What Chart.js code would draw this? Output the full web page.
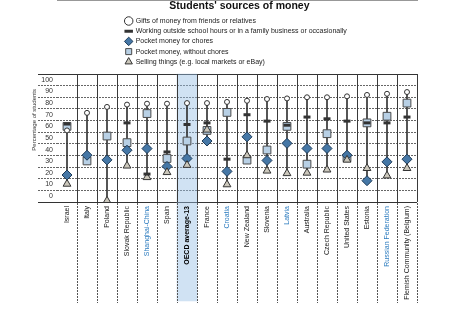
<!DOCTYPE html>
<html><head><meta charset="utf-8">
<script src="https://cdn.jsdelivr.net/npm/chart.js@4.4.1/dist/chart.umd.min.js"></script>
<style>
html,body{margin:0;padding:0;background:#fff;}
#wrap{position:relative;width:468px;height:312px;overflow:hidden;}
#main{position:absolute;left:0;top:0;}
#leg{position:absolute;left:122px;top:0;}
</style></head>
<body><div id="wrap"><canvas id="main" width="468" height="312"></canvas><canvas id="leg" width="500" height="72"></canvas></div>
<script>
const categories = ['Israel','Italy','Poland','Slovak Republic','Shanghai-China','Spain','OECD average-13','France','Croatia','New Zealand','Slovenia','Latvia','Australia','Czech Republic','United States','Estonia','Russian Federation','Flemish Community (Belgium)'];
const gifts    = [56.5, 71.6, 76.7, 78.7, 79.5, 79.5, 80, 80, 81, 82, 83.5, 84, 85, 85, 85.8, 87, 88, 89.5];
const working  = [62, null, null, 63, 19, 38, 61.6, 63, 31.8, 70, 64.5, 61, 68, 66.5, 64.5, 63, 63, 68];
const chores   = [18.2, 35.2, 31.2, 39.5, 40.9, 25.6, 32.4, 47.4, 21.3, 51, 30.7, 45.4, 41, 41, 35.2, 13.3, 29.5, 31.8];
const noChores = [60, 30.3, 51.7, 46, 71, 32.4, 47.4, 56.5, 72, 31, 39.7, 60, 27.5, 53.7, 33, 63, 68.7, 80];
const selling  = [10.5, null, -4, 26.1, 16.2, 20.5, 26.7, 57, 10, 35, 21.8, 19.6, 20, 22.7, 31.2, 24, 17.6, 24];
const seriesNames = ['Gifts of money from friends or relatives','Working outside school hours or in a family business or occasionally','Pocket money for chores','Pocket money, without chores','Selling things (e.g. local markets or eBay)'];
const yTickLabels = [0,10,20,30,40,50,60,70,80,90,100];
const highlighted = 'OECD average-13';
const partners = ['Shanghai-China','Croatia','Latvia','Russian Federation'];

const F = "'Liberation Sans', Arial, sans-serif";
const SHADE_TOP = 105, SHADE_BOTTOM = -90;

const markerStyles = [
  {pointStyle:'circle', pointRadius:2.5, pointBackgroundColor:'#ffffff', pointBorderColor:'#333333', pointBorderWidth:1, order:4},
  {pointStyle:'line', pointRadius:3.5, pointBackgroundColor:'#333333', pointBorderColor:'#333333', pointBorderWidth:3, order:1},
  {pointStyle:'rectRot', pointRadius:5, pointBackgroundColor:'#4577a6', pointBorderColor:'#1d3a57', pointBorderWidth:1, order:3},
  {pointStyle:'rect', pointRadius:5.5, pointBackgroundColor:'#b8d0e5', pointBorderColor:'#4a4a4a', pointBorderWidth:1, order:5},
  {pointStyle:'triangle', pointRadius:4.5, pointBackgroundColor:'#cbc7bb', pointBorderColor:'#333333', pointBorderWidth:1, order:2}
];
const seriesData = [gifts, working, chores, noChores, selling];

const ranges = categories.map((c, i) => {
  const v = seriesData.map(s => s[i]).filter(x => x !== null && x !== undefined);
  return [Math.min(...v), Math.max(...v)];
});
const shade = categories.map(c => c === highlighted ? [SHADE_BOTTOM, SHADE_TOP] : null);

const pointDatasets = seriesNames.map((n, i) => Object.assign({
  type: 'line', label: n, data: seriesData[i], showLine: false
}, markerStyles[i]));

const isEdge = c => c.tick && (c.tick.value === 105 || c.tick.value === -5);
const isOdd5 = c => c.tick && Math.abs(c.tick.value % 10) === 5;

new Chart(document.getElementById('main'), {
  type: 'bar',
  data: {
    labels: categories,
    datasets: pointDatasets.concat([
      {type:'bar', label:'range', data: ranges, barThickness: 1, backgroundColor:'#333333', borderWidth:0, grouped:false, order:9},
      {type:'bar', label:'shade', data: shade, backgroundColor:'rgba(150,190,228,0.45)', borderWidth:0, barPercentage:1, categoryPercentage:1, grouped:false, clip:false, order:10}
    ])
  },
  options: {
    responsive:false, animation:false, devicePixelRatio:1, events:[],
    layout:{padding:{top:74, right:51, bottom:0, left:0}},
    plugins:{legend:{display:false}, tooltip:{enabled:false}, title:{display:false}},
    scales:{
      x:{
        offset:true,
        afterFit: s => { s.height = 110; },
        grid:{offset:true, z:1, tickLength:101, lineWidth:1,
          color: c => c.index === 0 ? 'rgba(0,0,0,0)' : '#3a3a3a',
          tickColor: c => c.index === 0 ? 'rgba(0,0,0,0)' : '#555555',
          tickBorderDash:[2,1]},
        border:{display:true, color:'#333333', width:1},
        ticks:{autoSkip:false, minRotation:90, maxRotation:90, padding:-97, z:1,
          color: c => categories[c.index] === highlighted ? '#000000' : (partners.includes(categories[c.index]) ? '#2b7bbf' : '#1a1a1a'),
          font: c => ({family:F, size:7, weight: categories[c.index] === highlighted ? 'bold' : 'normal'})}
      },
      y:{
        min:-5, max:105,
        afterFit: s => { s.width = 57; },
        ticks:{stepSize:5, autoSkip:false, padding:-15, color:'#333333', font:{family:F, size:7},
          callback: v => yTickLabels.includes(v) ? String(v) : ''},
        grid:{tickLength:19, lineWidth:1,
          color: c => isOdd5(c) ? (isEdge(c) ? '#333333' : '#666666') : 'rgba(0,0,0,0)',
          tickColor: c => isOdd5(c) ? (isEdge(c) ? '#333333' : '#666666') : 'rgba(0,0,0,0)',
          tickBorderDash: c => isEdge(c) ? [] : [2,1]},
        border:{display:false, dash: c => isEdge(c) ? [] : [2,1]},
        title:{display:true, text:'Percentage of students         ', align:'end', color:'#333333', font:{family:F, size:6}, padding:{top:31, bottom:0}}
      }
    }
  }
});

new Chart(document.getElementById('leg'), {
  type:'scatter',
  data:{datasets: seriesNames.map((n, i) => Object.assign({label:n, data:[]}, markerStyles[i], {order:i}))},
  options:{
    responsive:false, animation:false, devicePixelRatio:1, events:[],
    layout:{padding:0},
    scales:{x:{display:false}, y:{display:false}},
    plugins:{
      tooltip:{enabled:false},
      title:{display:false},
      legend:{position:'left', align:'start',
        title:{display:true, text:"Students' sources of money", position:'center', color:'#111111', font:{family:F, size:10.5, weight:'bold'}, padding:{top:1, bottom:0.7}},
        labels:{usePointStyle:true, boxHeight:6, padding:3.2, color:'#222222', font:{family:F, size:7}}}
    }
  }
});
</script></body></html>
